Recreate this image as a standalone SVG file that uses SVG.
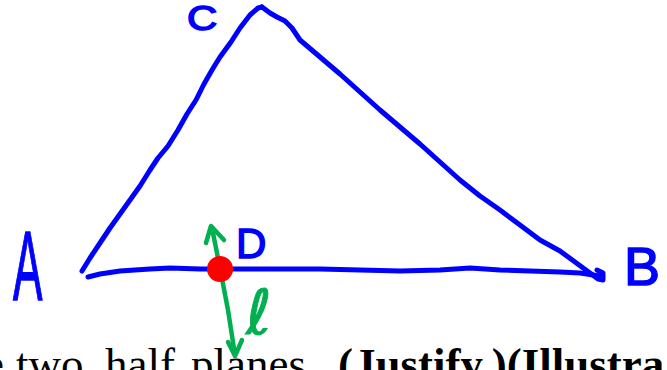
<svg xmlns="http://www.w3.org/2000/svg" width="667" height="370" viewBox="0 0 667 370">
<style>
.ink{fill:none;stroke:#0000FF;stroke-width:5;stroke-linecap:round;stroke-linejoin:round}
.grn{fill:none;stroke:#00B050;stroke-width:4.5;stroke-linecap:round;stroke-linejoin:round}
.lbl{font-family:"Liberation Sans","DejaVu Sans",sans-serif;fill:#0000FF;stroke:#0000FF;stroke-width:1.5}
.doc{font-family:"Liberation Serif","Times New Roman",serif;font-size:45px;fill:#000}
</style>
<rect width="667" height="370" fill="#fff"/>
<g id="triangle">
<polyline class="ink" points="82,271 90,258 100,243 110,228 120,214 130,200 140,186 150,170 158,158 168,146 178,130 187,114 196,100 204,84 212,70 220,57 231,42 240,28 250,15 258,8 262,7"/>
<polyline class="ink" points="262,7 270,13 277,17 285,21 292,28 300,40 320,57 340,74 360,92 380,110 400,127 420,144 440,162 460,180 480,196 500,210 520,225 540,240 560,251 575,262 590,273 598,279 603,280 603,273 597,270"/>
<polyline class="ink" points="600,276 580,273 560,272 530,271 500,270 470,268 440,270 400,271 360,270 320,269 280,269 240,269 200,269 170,268 150,269 120,271 100,274 88,277"/>
</g>
<g id="line-l">
<polyline class="grn" points="212,228 220,268 228,310 235,355"/>
<polyline class="grn" points="206,243 211,226 224,240"/>
<polyline class="grn" points="228,342 235,356 242,340"/>
</g>
<g id="point-D">
<circle cx="220" cy="269" r="13" fill="#FF0000"/>
</g>
<g id="labels">
<text class="lbl" transform="translate(13,300) scale(0.45,1)" font-size="98">A</text>
<text class="lbl" x="624" y="285" font-size="54">B</text>
<text class="lbl" transform="translate(187,30) scale(1.2,1)" font-size="35">C</text>
<text class="lbl" x="236" y="258" font-size="42">D</text>
<text x="246" y="334" font-family="DejaVu Sans,sans-serif" font-size="62" fill="#00B050" stroke="#00B050" stroke-width="1">ℓ</text>
</g>
<g id="caption">
<text class="doc" x="-16" y="379">e</text>
<text class="doc" x="16" y="379">two</text>
<text class="doc" x="105" y="379">half</text>
<text class="doc" x="191" y="379">planes.</text>
<text class="doc" x="338" y="379" font-weight="bold">(Justify.)(Illustra</text>
</g>
</svg>
